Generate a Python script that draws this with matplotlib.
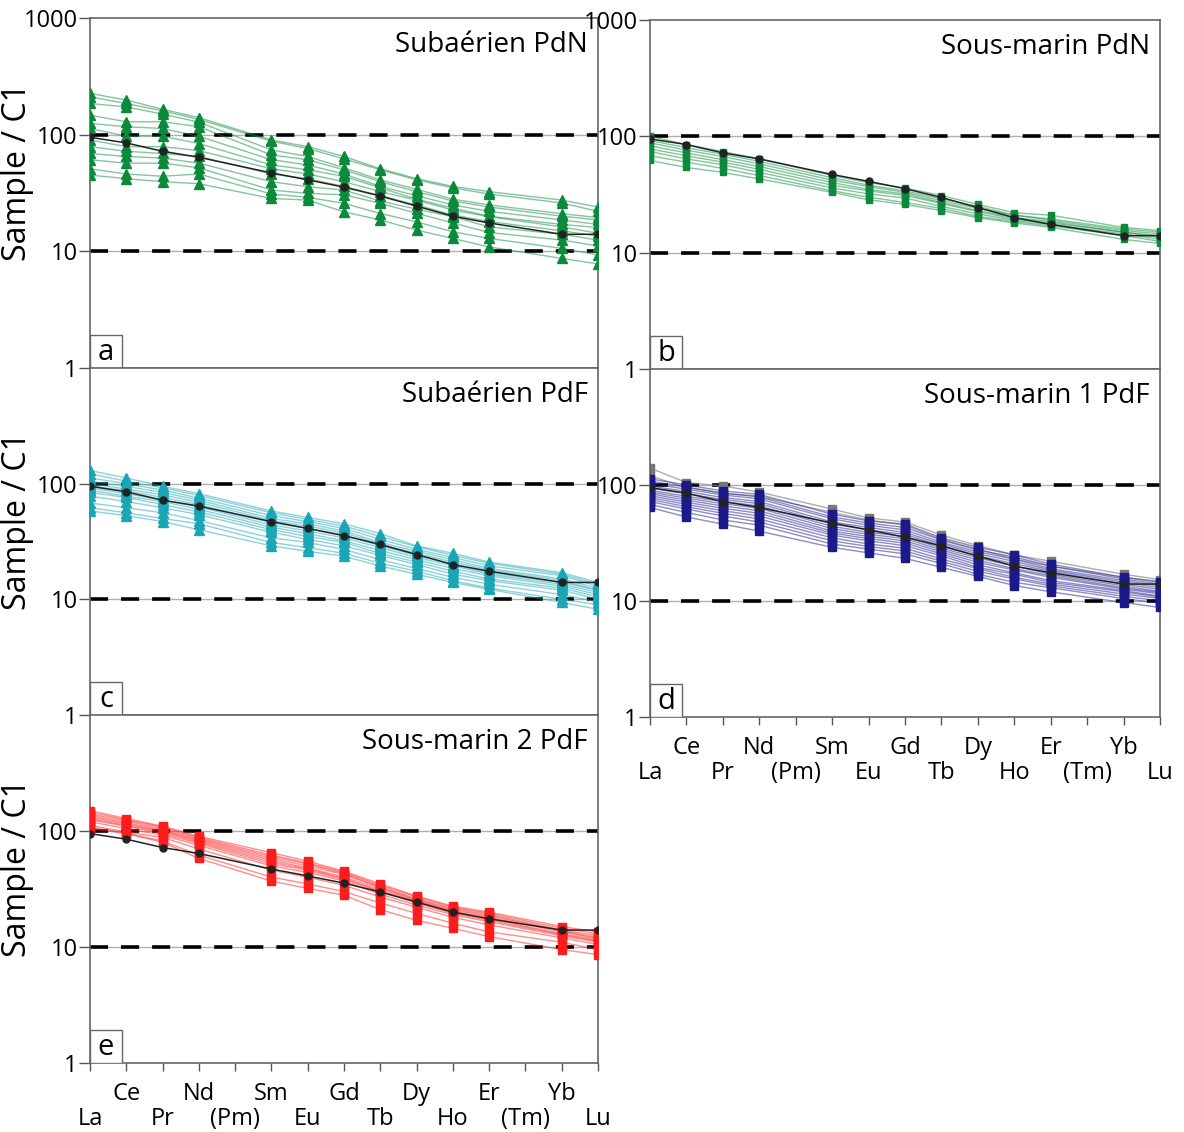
import matplotlib
matplotlib.use("Agg")
import matplotlib.pyplot as plt
from matplotlib.patches import Rectangle
from matplotlib.ticker import NullLocator

plt.rcParams['font.family'] = ['Open Sans', 'DejaVu Sans']

# rare earth elements along x, (Pm) and (Tm) carry no data
ree = ['La', 'Ce', 'Pr', 'Nd', '(Pm)', 'Sm', 'Eu', 'Gd', 'Tb', 'Dy', 'Ho', 'Er', '(Tm)', 'Yb', 'Lu']
measured = ['La', 'Ce', 'Pr', 'Nd', 'Sm', 'Eu', 'Gd', 'Tb', 'Dy', 'Ho', 'Er', 'Yb', 'Lu']

# reference pattern (black) drawn in every panel
ref = [95, 85, 72, 64, 47, 41, 35.5, 29.8, 24.4, 20, 17.5, 14, 14]

subaerien_pdn = [
    [226, 198, 165, 140, 90, 79, 65, 51, 42, 36, 32.5, 27.5, 24],
    [211, 185, 160, 135, 88, 76, 62, 50, 41, 35, 31, 26, 22],
    [185, 173, 150, 128, 74, 65, 52, 41, 34, 28, 25, 21, 19.5],
    [147, 129, 129, 117, 67, 61, 50, 39.5, 32.5, 27, 24, 20, 18.6],
    [125, 117, 113, 97, 61, 55, 46, 36, 30, 25, 22, 18.6, 17],
    [113, 97, 97, 84, 55, 50, 44, 35, 28, 23.5, 20, 17, 16],
    [90, 79, 79, 73, 51, 46, 39.5, 32.5, 27.5, 22.6, 19.8, 16.2, 14.3],
    [79, 72, 69, 65, 46, 42, 36, 30, 25, 20.5, 18, 15, 13.5],
    [69, 65, 63, 57, 39.5, 35.8, 33.5, 27, 23, 19.8, 16.2, 14, 12.5],
    [61, 57, 57, 52, 33.5, 31.4, 30.5, 25.8, 21.2, 17.5, 14.5, 12.5, 11.1],
    [51, 46, 44, 46, 31, 29, 25.8, 21.1, 17.9, 14.7, 12.9, 10.6, 9.3],
    [45, 42, 39.5, 38, 28.4, 27.5, 21.8, 18.6, 15.2, 12.9, 10.9, 8.7, 7.8],
]

sousmarin_pdn = [
    [100, 85, 74, 64, 46, 40, 36, 31, 26, 22, 21, 16.5, 15.5],
    [92, 80, 70, 61, 44, 38, 34, 29, 25, 21, 19.5, 16, 15],
    [88, 76, 67, 58, 42, 37, 33, 28, 24, 21, 19, 15.5, 14.5],
    [83, 72, 63, 55, 40, 35, 32, 27, 23, 20, 18.5, 15, 14],
    [78, 68, 60, 52, 38, 34, 31, 26.5, 22.5, 19.5, 18, 15, 13.5],
    [74, 64, 57, 49, 36, 32, 29.5, 25, 21.5, 19, 17.5, 14.5, 13],
    [68, 60, 53, 46, 34, 30, 27, 24, 20.5, 18.5, 17, 14, 12.5],
    [62, 54, 49, 43, 33, 28.5, 26, 23, 20, 18, 16.5, 13, 12],
]

subaerien_pdf = [
    [130, 112, 95, 82, 58, 51, 45, 37, 29, 25, 21, 17, 14],
    [122, 105, 92, 79, 56, 49, 43, 35, 28.5, 24, 20.5, 16.5, 13.5],
    [112, 100, 88, 75, 53, 47, 41, 33, 27, 23, 19.5, 16, 13],
    [105, 95, 84, 72, 50, 45, 39, 31, 26, 22, 18.5, 15, 12.5],
    [100, 90, 80, 69, 48, 43, 37.5, 30, 25, 21, 18, 14.5, 12],
    [96, 87, 76, 66, 46, 41, 36, 29, 24, 20, 17, 14, 12],
    [92, 82, 72, 63, 44, 39, 34, 28, 23, 19.5, 16.5, 13.5, 11.5],
    [88, 78, 70, 60, 42, 37, 32, 26.5, 22, 18.5, 16, 13, 11],
    [84, 76, 66, 57, 40, 35, 31, 25, 21, 17.5, 15, 12.5, 10.5],
    [78, 70, 62, 54, 38, 33, 29, 24, 20, 16.5, 14.5, 12, 10],
    [68, 62, 56, 48, 34, 31, 27, 22, 18.5, 15.5, 13.5, 11, 9.5],
    [62, 56, 50, 45, 31, 28, 25, 20.5, 17.5, 14.5, 12.5, 10, 9],
    [58, 53, 47, 40, 29, 26, 23.6, 19.4, 16.5, 14, 12.2, 9.4, 8.2],
]

sousmarin1_pdf = [
    [113, 100, 89, 83, 56, 49, 46, 35, 29, 25, 20.8, 16, 14.7],
    [108, 96, 85, 79, 53, 47, 43, 33.5, 27.5, 24, 20, 15.5, 14],
    [103, 92, 82, 76, 51, 45, 41, 32, 26.5, 23, 19, 15, 13.5],
    [98, 88, 78, 72, 48, 43, 39, 31, 25.5, 22, 18.5, 14.5, 13],
    [94, 84, 75, 69, 46, 41, 37.5, 30, 24.5, 21, 18, 14, 12.5],
    [90, 80, 72, 66, 44, 39, 36, 28.5, 23.5, 20, 17, 13.5, 12],
    [87, 77, 69, 63, 42, 37.5, 34.5, 27.5, 22.5, 19, 16.5, 13, 11.8],
    [84, 74, 66, 60, 40, 36, 33, 26.5, 21.5, 18.5, 16, 12.7, 11.5],
    [81, 71, 63, 57, 38.5, 34.5, 31.5, 25.5, 20.5, 17.5, 15, 12.3, 11],
    [78, 68, 60, 54, 37, 33, 30, 24.5, 19.5, 17, 14.5, 12, 10.8],
    [75, 65, 57, 51, 35, 31, 28.5, 23, 19, 16, 14, 11.5, 10.5],
    [72, 62, 54, 48, 33, 29.5, 27, 22, 18, 15.5, 13.5, 11, 10],
    [68, 58, 50, 45, 31, 28, 25.5, 21, 17, 14.5, 13, 10.5, 9.6],
    [64, 53, 46, 40, 29, 26, 23.3, 19.5, 16.3, 13.6, 12, 9.7, 8.8],
]

# grey samples of panel d
sousmarin1_pdf_grey = [
    [140, 105, 98, 87, 62, 52, 48, 37, 30, 25, 22, 17, 15.3],
    [120, 95, 85, 80, 58, 50, 45, 34, 28, 23, 20, 16, 14.5],
]

sousmarin2_pdf = [
    [150, 128, 110, 90, 65, 55, 45, 35, 27.5, 22.5, 20, 15, 13.5],
    [145, 125, 108, 88, 62, 53, 44, 34, 27, 22, 19.5, 14.5, 13],
    [140, 122, 105, 86, 60, 52, 43, 33, 26, 21.5, 19, 14, 12.5],
    [136, 118, 102, 84, 58, 50, 42, 32.5, 25.5, 21, 18.5, 13.8, 12],
    [132, 115, 100, 82, 56, 48, 40, 31.5, 25, 20.5, 18, 13.5, 11.8],
    [128, 112, 98, 80, 54, 47, 39, 30.5, 24.5, 20, 17.5, 13, 11.5],
    [125, 110, 95, 78, 52, 46, 38, 30, 24, 19.5, 17, 12.8, 11.2],
    [120, 105, 92, 75, 50, 44, 37, 28.5, 23, 19, 16.5, 12.5, 11],
    [112, 98, 88, 70, 46, 40, 34, 27, 22, 18, 15.5, 12, 10.5],
    [108, 96, 82, 62, 40, 35, 30, 24, 19.5, 16, 13.5, 11, 9.5],
    [105, 95, 80, 58, 37, 32, 28, 21, 17, 14.5, 12.3, 9.5, 8.6],
]

xpos = [ree.index(e) for e in measured]


def panel(rect, samples, color, marker, ms, title, letter, top_tick, xlabels, ylabel, grey=None):
    ax = fig.add_axes(rect)
    ax.set_yscale('log')
    ax.set_xlim(0, 14)
    ax.set_ylim(1, 1000)

    for v in (10, 100):
        ax.axhline(v, color='#b0b0b0', lw=1, zorder=1)
        ax.axhline(v, color='k', lw=2.6, dashes=(5, 3.6), zorder=1.5)

    if grey:
        for s in grey:
            ax.plot(xpos, s, color='#8a8a8a', lw=1, alpha=0.7, zorder=2)
            ax.plot(xpos, s, ls='none', marker=marker, ms=ms, color='#777777', zorder=2)
    for s in samples:
        ax.plot(xpos, s, color=color, lw=1, alpha=0.5, zorder=3)
        ax.plot(xpos, s, ls='none', marker=marker, ms=ms, color=color, zorder=3)
    ax.plot(xpos, ref, color='#222222', lw=1.1, marker='o', ms=5, zorder=4)

    yt = [1, 10, 100, 1000] if top_tick else [1, 10, 100]
    ax.set_yticks(yt)
    ax.set_yticklabels([str(t) for t in yt])
    ax.yaxis.set_minor_locator(NullLocator())
    ax.tick_params(axis='y', which='major', length=8, width=1, color='#555555',
                   labelsize=17, pad=1)

    # two rows of element names: odd positions on top row, even ones below
    odd = list(range(1, len(ree), 2))
    even = list(range(0, len(ree), 2))
    ax.set_xticks(odd)
    ax.set_xticks(even, minor=True)
    if xlabels:
        ax.set_xticklabels([ree[i] for i in odd])
        ax.set_xticklabels([ree[i] for i in even], minor=True)
        ax.tick_params(axis='x', which='major', length=6, width=1, color='#555555',
                       labelsize=17, pad=8)
        ax.tick_params(axis='x', which='minor', length=6, width=1, color='#555555',
                       labelsize=17, pad=26)
    else:
        ax.tick_params(axis='x', which='both', length=0, labelbottom=False)

    for sp in ax.spines.values():
        sp.set_color('#666666')
        sp.set_linewidth(1.2)

    ax.text(0.98, 0.923, title, transform=ax.transAxes, ha='right', va='center',
            fontsize=20, zorder=6)
    ax.add_patch(Rectangle((0, 0), 0.063, 0.094, transform=ax.transAxes,
                           facecolor='white', edgecolor='#666666', lw=1, zorder=6))
    ax.text(0.0315, 0.045, letter, transform=ax.transAxes, ha='center', va='center',
            fontsize=21, zorder=7)
    if ylabel:
        ax.set_ylabel('Sample / C1', fontsize=23)
        ax.yaxis.set_label_coords(-0.11, 0.56)
    return ax


fig = plt.figure(figsize=(11.84, 11.32), dpi=100)

green = '#0b8a3c'
teal = '#1aa6b4'
navy = '#1c1a8a'
red = '#ff1c1c'

W, H = 1184, 1132
def r(x0, x1, y0, y1):
    return [x0 / W, 1 - y1 / H, (x1 - x0) / W, (y1 - y0) / H]

panel(r(90, 598, 18, 368), subaerien_pdn, green, '^', 7, 'Subaérien PdN', 'a', True, False, True)
panel(r(650, 1160, 20, 369), sousmarin_pdn, green, 's', 5, 'Sous-marin PdN', 'b', True, False, False)
panel(r(90, 598, 368, 715), subaerien_pdf, teal, '^', 7, 'Subaérien PdF', 'c', False, False, True)
panel(r(650, 1160, 369, 717), sousmarin1_pdf, navy, 's', 6, 'Sous-marin 1 PdF', 'd', False, True, False,
      grey=sousmarin1_pdf_grey)
panel(r(90, 598, 715, 1063), sousmarin2_pdf, red, 's', 6, 'Sous-marin 2 PdF', 'e', False, True, True)

fig.savefig('out.png', dpi=100)
